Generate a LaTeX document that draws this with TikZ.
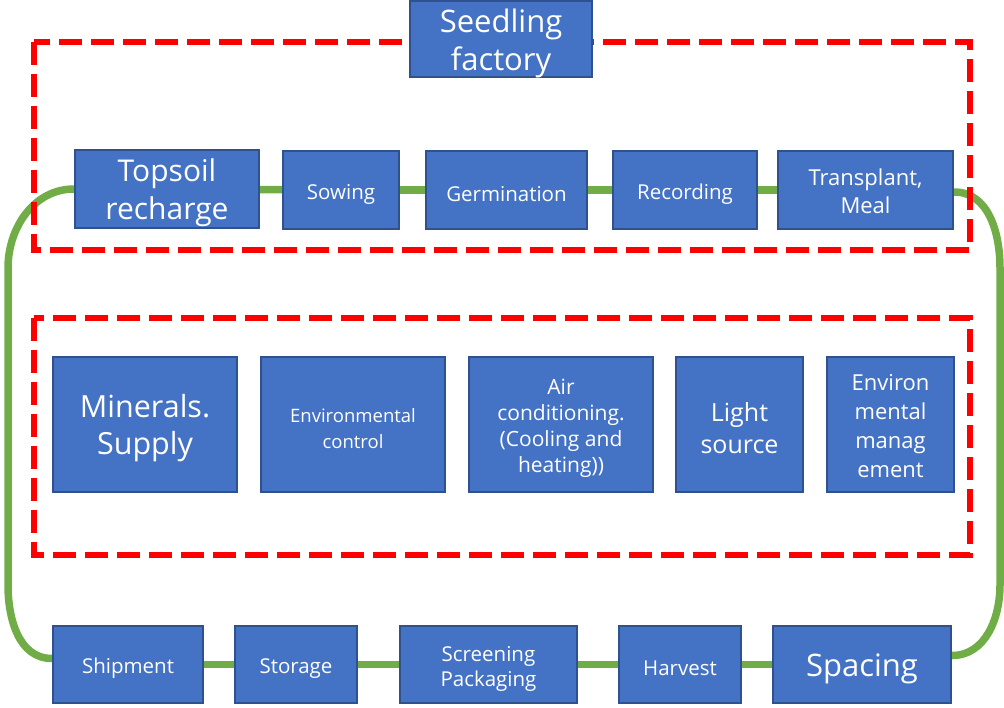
\documentclass[tikz,border=0pt]{standalone}
\usepackage{fontspec}
\setmainfont{Open Sans}
\usetikzlibrary{backgrounds}
\definecolor{boxfill}{HTML}{4472C4}
\definecolor{boxline}{HTML}{2F528F}
\definecolor{loopgreen}{HTML}{70AD47}
\definecolor{dashred}{HTML}{FF0000}
\newcommand{\fs}[2]{\fontsize{#1}{#2}\selectfont}
\begin{document}
\begin{tikzpicture}[x=1pt,y=-1pt,
  box/.style={draw=boxline, line width=2pt, fill=boxfill},
  txt/.style={text=white, align=center, inner sep=0pt, yshift=-4pt},
  grp/.style={draw=dashred, line width=6pt, dash pattern=on 23pt off 9pt},
  link/.style={draw=loopgreen, line width=7.5pt}]
\useasboundingbox (0,0) rectangle (1004,707);
% dashed groups
\draw[grp] (34,42) rectangle (970,250);
\draw[grp] (34,318) rectangle (970,555);
% nodes
\node[box, minimum width=182pt, minimum height=76pt, label={[txt, font=\fs{31}{38}]center:{Seedling\\factory}}] (seed) at (501,39) {};
\node[box, minimum width=184pt, minimum height=78pt, label={[txt, font=\fs{30}{38}]center:{Topsoil\\recharge}}] (topsoil) at (167,189) {};
\node[box, minimum width=116pt, minimum height=78pt, label={[txt, font=\fs{20.5}{26}]center:{Sowing}}] (sowing) at (341,190) {};
\node[box, minimum width=161pt, minimum height=78pt, label={[txt, font=\fs{20.5}{26}]center:{Germination}}] (germ) at (506.5,190) {};
\node[box, minimum width=144pt, minimum height=78pt, label={[txt, font=\fs{20.5}{26}]center:{Recording}}] (rec) at (685,190) {};
\node[box, minimum width=175pt, minimum height=78pt, label={[txt, yshift=3pt, font=\fs{22}{28}]center:{Transplant,\\Meal}}] (trans) at (865.5,190) {};
\node[box, minimum width=184pt, minimum height=135pt, label={[txt, font=\fs{30.5}{37}]center:{Minerals.\\Supply}}] (min) at (145,424.5) {};
\node[box, minimum width=184pt, minimum height=135pt, label={[txt, font=\fs{18.5}{26}]center:{Environmental\\control}}] (envc) at (353,424.5) {};
\node[box, minimum width=184pt, minimum height=135pt, label={[txt, font=\fs{21}{26}]center:{Air\\conditioning.\\(Cooling and\\heating))}}] (air) at (561,424.5) {};
\node[box, minimum width=127pt, minimum height=135pt, label={[txt, font=\fs{25}{32}]center:{Light\\source}}] (light) at (739.5,424.5) {};
\node[box, minimum width=127pt, minimum height=135pt, label={[txt, yshift=2pt, font=\fs{22}{29}]center:{Environ\\mental\\manag\\ement}}] (envm) at (890.5,424.5) {};
\node[box, minimum width=150pt, minimum height=77pt, label={[txt, font=\fs{20.5}{26}]center:{Shipment}}] (ship) at (128,664.5) {};
\node[box, minimum width=122pt, minimum height=77pt, label={[txt, font=\fs{20.5}{26}]center:{Storage}}] (stor) at (296,664.5) {};
\node[box, minimum width=177pt, minimum height=77pt, label={[txt, font=\fs{20.5}{25}]center:{Screening\\Packaging}}] (screen) at (488.5,664.5) {};
\node[box, minimum width=122pt, minimum height=77pt, label={[txt, font=\fs{20.5}{26}]center:{Harvest}}] (harv) at (680,664.5) {};
\node[box, minimum width=178pt, minimum height=77pt, label={[txt, font=\fs{31}{38}]center:{Spacing}}] (spac) at (862,664.5) {};
% connectors
\begin{pgfonlayer}{background}
\draw[link] (topsoil) -- (sowing);
\draw[link] (sowing) -- (germ);
\draw[link] (germ) -- (rec);
\draw[link] (rec) -- (trans);
\draw[link] (ship) -- (stor);
\draw[link] (stor) -- (screen);
\draw[link] (screen) -- (harv);
\draw[link] (harv) -- (spac);
\draw[link] (topsoil.west) to[out=180,in=90] (8,268) -- (8,585) to[out=270,in=180] ([yshift=6pt]ship.west);
\draw[link] ([yshift=-2pt]trans.east) to[out=0,in=90] (1000,268) -- (1000,585) to[out=270,in=0] ([yshift=9pt]spac.east);
\end{pgfonlayer}
\end{tikzpicture}
\end{document}
